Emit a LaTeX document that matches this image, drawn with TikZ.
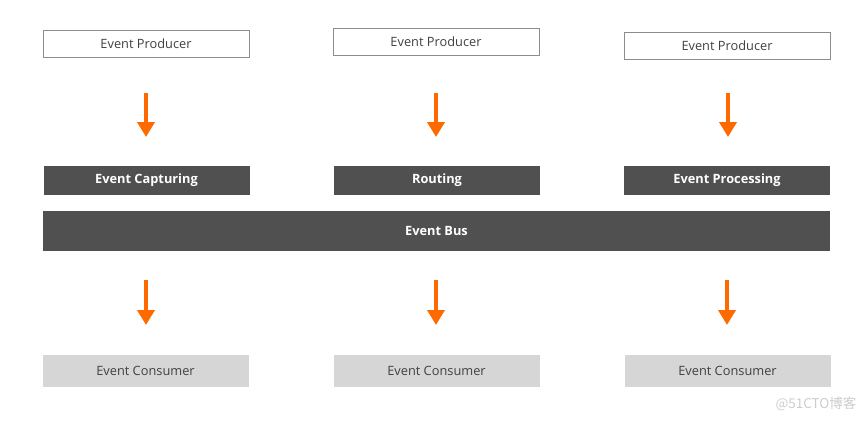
\documentclass[tikz,border=0pt]{standalone}
\usepackage{fontspec}
\setmainfont{Open Sans}
\newfontfamily\cjk{Noto Sans CJK SC}
\usetikzlibrary{arrows.meta}
\definecolor{darkbox}{HTML}{505050}
\definecolor{consfill}{HTML}{D6D6D6}
\definecolor{orangearr}{HTML}{FF6A00}
\definecolor{txt}{HTML}{404040}
\tikzset{
  prod/.style={draw=black!45, line width=0.8pt, fill=white, minimum width=206pt, minimum height=27pt, inner sep=0pt, font=\fontsize{12.8}{14}\selectfont, text=txt},
  dark/.style={fill=darkbox, minimum width=206pt, minimum height=29pt, inner sep=0pt, font=\bfseries\fontsize{12.8}{14}\selectfont, text=white},
  cons/.style={fill=consfill, minimum width=206pt, minimum height=32pt, inner sep=0pt, font=\fontsize{12.8}{14}\selectfont, text=txt},
  flow/.style={draw=orangearr, fill=orangearr, line width=4.5pt, -{Triangle[length=15pt,width=17pt]}, shorten >=0pt}
}
\begin{document}
\begin{tikzpicture}[x=1pt,y=-1pt]
\useasboundingbox (0,0) rectangle (866,420);
% producers
\node[prod] (p1) at (146,43.5) {Event Producer};
\node[prod] (p2) at (436,42) {Event Producer};
\node[prod] (p3) at (727,46) {Event Producer};
% middle dark boxes
\node[dark] (d1) at (146.5,180.5) {Event Capturing};
\node[dark] (d2) at (437,180.5) {Routing};
\node[dark] (d3) at (727,180.5) {Event Processing};
\node[dark, minimum width=787pt, minimum height=40pt] (bus) at (436.5,231) {Event Bus};
% consumers
\node[cons] (c1) at (145.5,371) {Event Consumer};
\node[cons] (c2) at (436.5,371) {Event Consumer};
\node[cons] (c3) at (727.5,371) {Event Consumer};
% arrows top
\coordinate (a1s) at (146,93); \coordinate (a1e) at (146,137);
\coordinate (a2s) at (436,93); \coordinate (a2e) at (436,137);
\coordinate (a3s) at (728,93); \coordinate (a3e) at (728,137);
\draw[flow] (a1s) -- (a1e);
\draw[flow] (a2s) -- (a2e);
\draw[flow] (a3s) -- (a3e);
% arrows bottom
\coordinate (b1s) at (146,280); \coordinate (b1e) at (146,325);
\coordinate (b2s) at (436,280); \coordinate (b2e) at (436,325);
\coordinate (b3s) at (727,280); \coordinate (b3e) at (727,325);
\draw[flow] (b1s) -- (b1e);
\draw[flow] (b2s) -- (b2e);
\draw[flow] (b3s) -- (b3e);
% watermark
\node[text=black!20, font=\cjk\fontsize{13.5}{15}\selectfont, inner sep=0pt] (wm) at (816,404) {@51CTO博客};
\end{tikzpicture}
\end{document}
